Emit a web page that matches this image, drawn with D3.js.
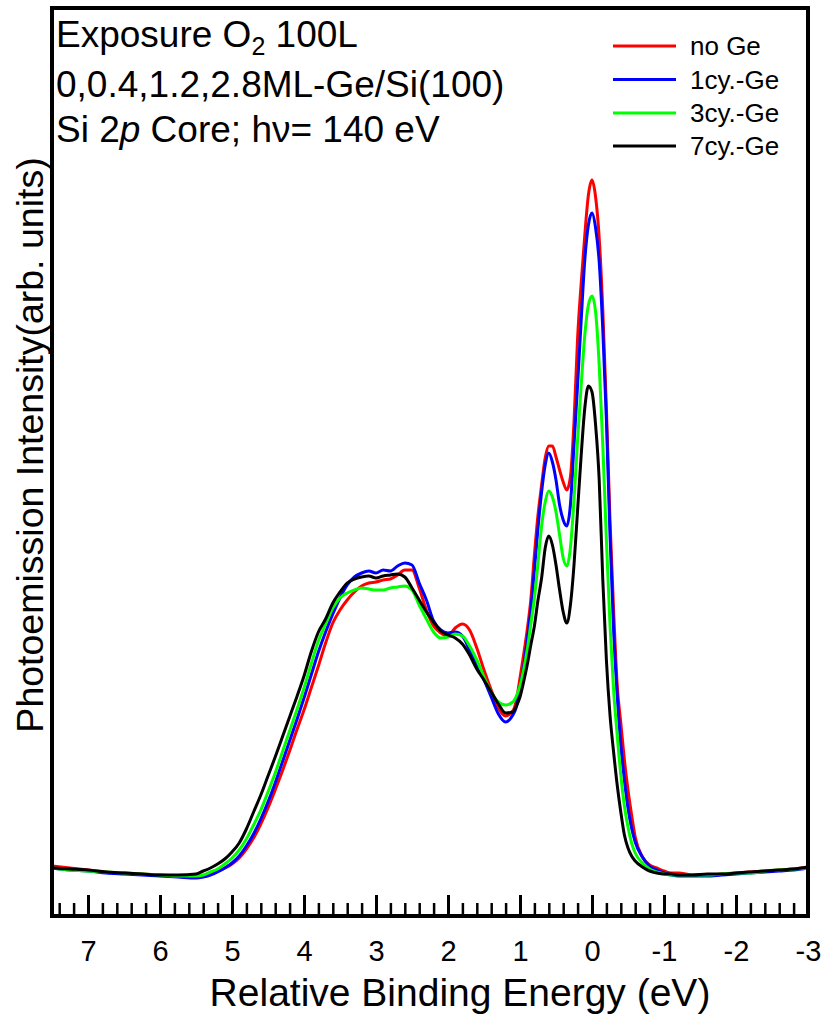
<!DOCTYPE html>
<html>
<head>
<meta charset="utf-8">
<script src="https://cdn.jsdelivr.net/npm/d3@7"></script>
<style>
  html, body { margin: 0; padding: 0; background: #fff; }
  svg { display: block; }
  text { font-family: "Liberation Sans", Arial, Helvetica, sans-serif; fill: #000; }
</style>
</head>
<body>
<svg id="chart" width="825" height="1019"></svg>
<script>
// Relative binding energy grid (eV), high to low
const energy = [
  7.5, 7.25, 7.0, 6.75, 6.5, 6.25, 6.0, 5.75, 5.5,
  5.4, 5.3, 5.2, 5.1, 5.0, 4.9, 4.8, 4.7, 4.6, 4.5, 4.4, 4.3, 4.2, 4.1, 4.0,
  3.9, 3.8, 3.7, 3.6, 3.5, 3.4, 3.3, 3.2, 3.1, 3.0, 2.9, 2.8, 2.7, 2.6, 2.5,
  2.4, 2.3, 2.2, 2.1, 2.0, 1.9, 1.8, 1.7, 1.6, 1.5, 1.4, 1.3, 1.2, 1.1,
  1.05, 1.0, 0.95, 0.9, 0.85, 0.8, 0.75, 0.7, 0.65, 0.6, 0.55, 0.5, 0.45, 0.4,
  0.35, 0.3, 0.25, 0.2, 0.15, 0.1, 0.05, 0.0, -0.05, -0.1, -0.15, -0.2, -0.25,
  -0.3, -0.35, -0.4, -0.45, -0.5, -0.55, -0.6,
  -0.7, -0.8, -0.9, -1.0, -1.1, -1.2,
  -1.4, -1.6, -1.8, -2.0, -2.2, -2.4, -2.6, -2.8, -3.0
];

// Si 2p photoemission intensity (arb. units) for each Ge coverage
const noGe = [
  50, 48, 46, 44, 43, 42, 41, 40, 39,
  40, 42, 45, 48, 52, 58, 67, 78, 92, 108, 126, 145, 165, 186, 206,
  228, 250, 273, 293, 306, 316, 324, 330, 333, 334, 336, 337, 341, 346, 346,
  328, 306, 290, 283, 280, 288, 292, 286, 268, 246, 226, 208, 200, 205,
  216, 238, 261, 286, 316, 361, 401, 431, 458, 470, 470, 459, 446, 434,
  426, 439, 494, 578, 633, 681, 721, 736, 719, 678, 606, 508, 396,
  306, 231, 193, 156, 126, 101, 79,
  59, 51, 48, 45, 43, 43,
  41, 41, 42, 43, 44, 45, 46, 47, 49
];

const cy1Ge = [
  48, 46, 45, 43, 42, 41, 40, 39, 38,
  39, 41, 44, 48, 53, 60, 70, 82, 97, 114, 133, 154, 175, 196, 218,
  241, 264, 284, 302, 318, 331, 339, 343, 345, 343, 346, 345, 350, 353, 351,
  333, 316, 295, 286, 283, 284, 280, 266, 251, 236, 219, 202, 194, 201,
  209, 229, 249, 276, 306, 346, 388, 424, 451, 463, 454, 436, 411, 396,
  390, 411, 471, 531, 596, 656, 691, 703, 688, 654, 586, 496, 381,
  286, 221, 171, 136, 108, 88, 74,
  59, 50, 46, 43, 41, 40,
  40, 40, 41, 42, 43, 44, 45, 46, 48
];

const cy3Ge = [
  48, 46, 45, 44, 43, 42, 41, 40, 40,
  41, 44, 47, 52, 58, 66, 77, 91, 106, 124, 143, 164, 185, 206, 228,
  252, 275, 292, 308, 318, 323, 326, 328, 327, 326, 326, 328, 329, 330, 326,
  311, 297, 284, 278, 279, 282, 280, 270, 256, 239, 224, 214, 211, 214,
  220, 230, 246, 266, 292, 318, 353, 390, 414, 425, 419, 404, 381, 358,
  350, 368, 416, 476, 531, 581, 611, 620, 604, 551, 471, 376, 291,
  226, 181, 141, 110, 89, 73, 63,
  53, 47, 44, 42, 41, 41,
  41, 41, 42, 43, 43, 45, 46, 47, 48
];

const cy7Ge = [
  48, 47, 46, 44, 43, 42, 41, 41, 42,
  45, 48, 52, 57, 64, 73, 87, 104, 121, 140, 159, 179, 199, 219, 240,
  264, 284, 297, 313, 324, 333, 337, 339, 340, 338, 340, 341, 342, 339, 328,
  316, 304, 294, 285, 281, 278, 272, 261, 247, 236, 224, 212, 203, 204,
  210, 219, 234, 251, 271, 290, 316, 338, 368, 380, 371, 351, 326, 304,
  293, 311, 351, 406, 461, 508, 530, 524, 491, 436, 336, 256, 201,
  164, 131, 104, 81, 68, 60, 55,
  49, 45, 43, 42, 42, 41,
  41, 42, 42, 43, 44, 45, 46, 47, 49
];

const seriesNames = ["no Ge", "1cy.-Ge", "3cy.-Ge", "7cy.-Ge"];
const seriesValues = [noGe, cy1Ge, cy3Ge, cy7Ge];
const seriesColors = ["#ff0000", "#0000ff", "#00ff00", "#000000"];

const majorTicks = [7, 6, 5, 4, 3, 2, 1, 0, -1, -2, -3];
const majorTickLabels = ["7", "6", "5", "4", "3", "2", "1", "0", "-1", "-2", "-3"];

const plot = { left: 52, right: 808, top: 8, bottom: 916 };

const svg = d3.select("#chart");

const x = d3.scaleLinear().domain([7.5, -3]).range([plot.left, plot.right]);
const y = d3.scaleLinear().domain([0, 908]).range([plot.bottom, plot.top]);

// spectra
const line = d3.line()
  .x(d => x(d[0]))
  .y(d => y(d[1]))
  .curve(d3.curveMonotoneX);

seriesValues.forEach((vals, i) => {
  const pts = energy.map((e, k) => [e, vals[k]]);
  svg.append("path")
    .datum(pts)
    .attr("fill", "none")
    .attr("stroke", seriesColors[i])
    .attr("stroke-width", 3)
    .attr("stroke-linejoin", "round")
    .attr("d", line);
});

// minor ticks every 0.2 eV, pointing inward
const minorTicks = d3.range(74, -30, -2).map(v => v / 10).filter(v => Math.abs(v - Math.round(v)) > 1e-6);

const minorAxis = d3.axisBottom(x)
  .tickValues(minorTicks)
  .tickSize(-13)
  .tickFormat("");
const gMinor = svg.append("g")
  .attr("transform", `translate(0,${plot.bottom})`)
  .call(minorAxis);
gMinor.select(".domain").remove();
gMinor.selectAll(".tick line").attr("stroke", "#000").attr("stroke-width", 2.5);

const majorAxis = d3.axisBottom(x)
  .tickValues(majorTicks)
  .tickSize(-21)
  .tickPadding(24)
  .tickFormat((d, i) => majorTickLabels[i]);
const gMajor = svg.append("g")
  .attr("transform", `translate(0,${plot.bottom})`)
  .call(majorAxis);
gMajor.select(".domain").remove();
gMajor.selectAll(".tick line").attr("stroke", "#000").attr("stroke-width", 3);
gMajor.selectAll(".tick text")
  .attr("font-size", 29)
  .attr("font-family", "'Liberation Sans', Arial, sans-serif")
  .attr("fill", "#000");

// frame
svg.append("rect")
  .attr("x", plot.left)
  .attr("y", plot.top)
  .attr("width", plot.right - plot.left)
  .attr("height", plot.bottom - plot.top)
  .attr("fill", "none")
  .attr("stroke", "#000")
  .attr("stroke-width", 4);

// axis titles
svg.append("text")
  .attr("x", 460)
  .attr("y", 1006)
  .attr("text-anchor", "middle")
  .attr("font-size", 39)
  .text("Relative Binding Energy (eV)");

svg.append("text")
  .attr("transform", "translate(43,445) rotate(-90)")
  .attr("text-anchor", "middle")
  .attr("font-size", 37.5)
  .text("Photoemission Intensity(arb. units)");

// sample description
const info = svg.append("g").attr("font-size", 37);
const l1 = info.append("text").attr("x", 56).attr("y", 47);
l1.append("tspan").text("Exposure O");
l1.append("tspan").attr("font-size", 25).attr("dy", 8).text("2");
l1.append("tspan").attr("dy", -8).text(" 100L");

info.append("text").attr("x", 56).attr("y", 97).text("0,0.4,1.2,2.8ML-Ge/Si(100)");

const l3 = info.append("text").attr("x", 56).attr("y", 142);
l3.append("tspan").text("Si 2");
l3.append("tspan").attr("font-style", "italic").text("p");
l3.append("tspan").text(" Core; h\u03bd= 140 eV");

// legend
const legendY = [46, 79.5, 113, 146];
const legend = svg.append("g");
seriesNames.forEach((name, i) => {
  legend.append("line")
    .attr("x1", 613).attr("x2", 676)
    .attr("y1", legendY[i]).attr("y2", legendY[i])
    .attr("stroke", seriesColors[i])
    .attr("stroke-width", 3);
  legend.append("text")
    .attr("x", 690)
    .attr("y", legendY[i] + 9)
    .attr("font-size", 26)
    .text(name);
});
</script>
</body>
</html>
